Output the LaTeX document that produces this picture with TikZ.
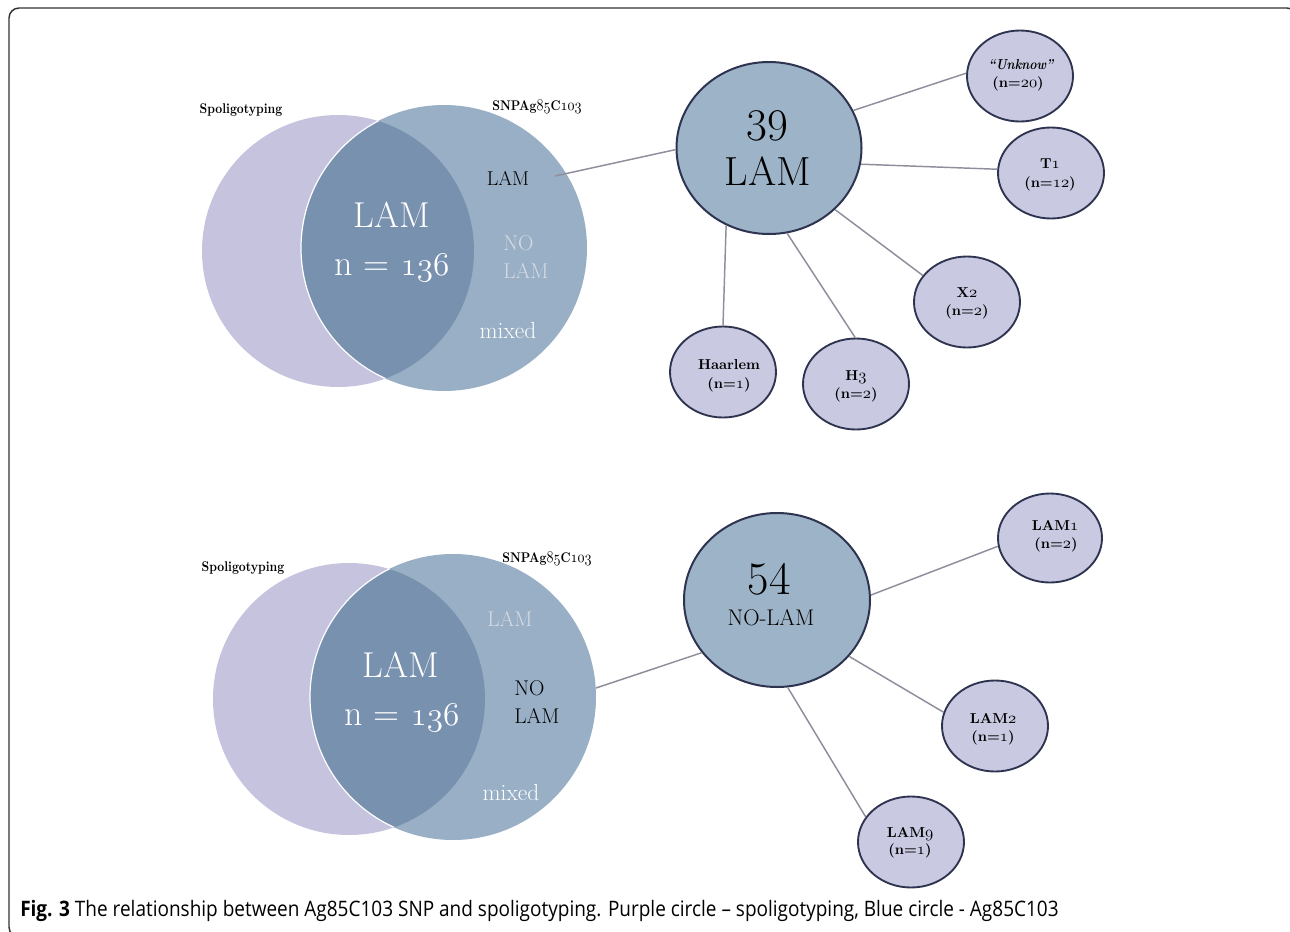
\documentclass[tikz,border=0pt]{standalone}
\usepackage{fontspec}
\usetikzlibrary{shapes.geometric}
\newfontfamily\capfont{Open Sans}
\newcommand\os[1]{{\usefont{OML}{lmm}{m}{it}#1}}
\newcommand\osb[1]{\scalebox{1.12}{\usefont{OML}{lmm}{b}{it}#1}}
\newcommand\narrowtxt[1]{\scalebox{0.86}[1]{#1}}
\definecolor{purp}{HTML}{C5C3DD}
\definecolor{blu}{HTML}{98AFC5}
\definecolor{ovl}{HTML}{7891AF}
\definecolor{bigf}{HTML}{9DB3C7}
\definecolor{smf}{HTML}{C9C9E1}
\definecolor{edg}{HTML}{2E3450}
\definecolor{con}{HTML}{8E8E9C}
\definecolor{pale}{HTML}{D6DBE3}
\definecolor{frame}{HTML}{333333}
\tikzset{
  bigell/.style={ellipse, draw=edg, fill=bigf, line width=1.5pt, inner sep=0pt,
    minimum width={185*0.75pt}, minimum height={172*0.75pt}},
  smell/.style={ellipse, draw=edg, fill=smf, line width=1.4pt, inner sep=0pt,
    minimum width={106*0.75pt}, minimum height={91*0.75pt}},
  conn/.style={draw=con, line width=1.1pt},
  txt/.style={anchor=base, inner sep=0pt},
  smtxt/.style={txt, font=\fontsize{10.8}{12}\selectfont\bfseries},
  vtitle/.style={txt, font=\fontsize{10.5}{12}\selectfont\bfseries},
  side/.style={txt, font=\fontsize{16}{18}\selectfont},
  bigw/.style={txt, text=white, font=\fontsize{27}{30}\selectfont},
}
\begin{document}
\begin{tikzpicture}[x=0.75pt,y=-0.75pt]
\useasboundingbox (0,0) rectangle (1290,932);
\draw[frame, line width=1.1pt, rounded corners=7.5pt] (9,8) rectangle (1297,937);

% ---------- top Venn ----------
\node[circle, fill=purp, inner sep=0pt, minimum size=204pt] (sp1) at (338,251) {};
\node[circle, fill=blu, inner sep=0pt, minimum size=214.5pt] (sn1) at (444,248) {};
\begin{scope}
  \clip (338,251) circle[radius=102pt];
  \fill[ovl] (444,248) circle[radius=107.25pt];
  \draw[white, line width=0.9pt] (444,248) circle[radius=107.25pt];
\end{scope}
\node[vtitle] (t1a) at (241,113) {\narrowtxt{Spoligotyping}};
\node[vtitle] (t1b) at (537,110) {\narrowtxt{SNPAg\osb{85}C\osb{103}}};
\node[bigw] (l1a) at (392,227) {LAM};
\node[bigw] (l1b) at (392,275) {n = \os{136}};
\node[txt, font=\fontsize{15}{18}\selectfont] (l1c) at (508,185) {LAM};
\node[side, anchor=base west, text=pale] (l1d) at (503,250) {NO};
\node[side, anchor=base west, text=pale] (l1e) at (503,278) {LAM};
\node[txt, text=white, font=\fontsize{17.5}{20}\selectfont] (l1f) at (508,338) {mixed};
\coordinate (v1) at (555,176);

% ---------- top network ----------
\node[bigell] (big1) at (769,148) {};
\node[txt, font=\fontsize{34}{36}\selectfont] (n39) at (767,140) {39};
\node[txt, font=\fontsize{30.5}{34}\selectfont] (n39b) at (768,185) {LAM};

\node[smell] (unk) at (1020,76) {};
\node[smell] (t1) at (1051,173) {};
\node[smell] (x2) at (967,302) {};
\node[smell] (h3) at (856,384) {};
\node[smell] (haar) at (723,372) {};

\node[txt, font=\fontsize{10.8}{12}\selectfont\bfseries\itshape] at (1021,69) {\narrowtxt{“Unknow”}};
\node[smtxt] at (1018,87) {(n=\osb{20})};
\node[smtxt] at (1050,168) {T\osb{1}};
\node[smtxt] at (1050,187) {(n=\osb{12})};
\node[smtxt] at (967,297) {X\osb{2}};
\node[smtxt] at (967,315) {(n=\osb{2})};
\node[smtxt] at (856,380) {H\osb{3}};
\node[smtxt] at (856,398) {(n=\osb{2})};
\node[smtxt] at (729,369) {Haarlem};
\node[smtxt] at (729,388) {(n=\osb{1})};

\draw[conn] (v1) -- (big1.181);
\draw[conn] (big1.24) -- (unk.177);
\draw[conn] (big1.350) -- (t1.176);
\draw[conn] (big1.317) -- (x2.149);
\draw[conn] (big1.282) -- (h3.91);
\draw[conn] (big1.241) -- (haar.90);

% ---------- bottom Venn ----------
\node[circle, fill=purp, inner sep=0pt, minimum size=204pt] (sp2) at (349,699) {};
\node[circle, fill=blu, inner sep=0pt, minimum size=214.5pt] (sn2) at (453,697) {};
\begin{scope}
  \clip (349,699) circle[radius=102pt];
  \fill[ovl] (453,697) circle[radius=107.25pt];
  \draw[white, line width=0.9pt] (453,697) circle[radius=107.25pt];
\end{scope}
\node[vtitle] (t2a) at (243,571) {\narrowtxt{Spoligotyping}};
\node[vtitle] (t2b) at (547,562) {\narrowtxt{SNPAg\osb{85}C\osb{103}}};
\node[bigw] (l2a) at (401,677) {LAM};
\node[bigw] (l2b) at (402,725) {n = \os{136}};
\node[side, text=pale] (l2c) at (510,626) {LAM};
\node[side, anchor=base west] (l2d) at (514,695) {NO};
\node[side, anchor=base west] (l2e) at (514,723) {LAM};
\node[txt, text=white, font=\fontsize{17.5}{20}\selectfont] (l2f) at (511,800) {mixed};
\coordinate (v2) at (596,688);

% ---------- bottom network ----------
\node[bigell, minimum width={186*0.75pt}, minimum height={174*0.75pt}] (big2) at (777,600) {};
\node[txt, font=\fontsize{35}{38}\selectfont] (n54) at (769,594) {54};
\node[txt, font=\fontsize{17}{20}\selectfont] (n54b) at (771,625) {NO-LAM};

\node[smell, minimum width={104*0.75pt}, minimum height={89*0.75pt}] (lam1) at (1050,538) {};
\node[smell] (lam2) at (995,726) {};
\node[smell] (lam9) at (911,842) {};

\node[smtxt] at (1055,530) {LAM\osb{1}};
\node[smtxt] at (1056,548) {(n=\osb{2})};
\node[smtxt] at (993,723) {LAM\osb{2}};
\node[smtxt] at (993,741) {(n=\osb{1})};
\node[smtxt] at (910,837) {LAM\osb{9}};
\node[smtxt] at (910,854) {(n=\osb{1})};

\draw[conn] (v2) -- (big2.215);
\draw[conn] (big2.3) -- (lam1.189);
\draw[conn] (big2.322) -- (lam2.165);
\draw[conn] (big2.277) -- (lam9.151);

% ---------- caption ----------
\node[anchor=base west, inner sep=0pt, font=\capfont\fontsize{16}{18}\selectfont] (cap) at (20,916)
  {\scalebox{0.89}[1]{\textbf{Fig. 3} The relationship between Ag85C103 SNP and spoligotyping. Purple circle – spoligotyping, Blue circle - Ag85C103}};
\end{tikzpicture}
\end{document}
